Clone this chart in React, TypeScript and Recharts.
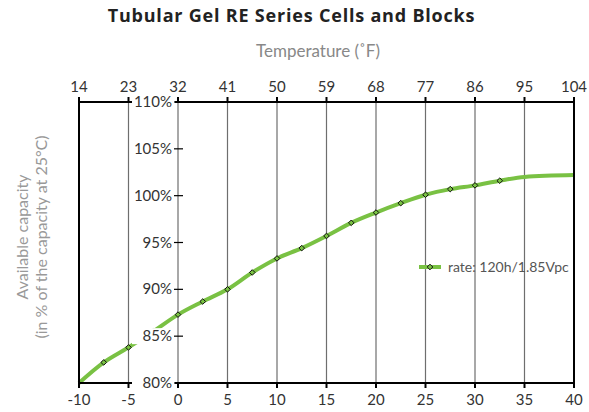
import { ComposedChart, Line, XAxis, YAxis, CartesianGrid, Legend, Label } from 'recharts';

const temps = [-10, -7.5, -5, -2.5, 0, 2.5, 5, 7.5, 10, 12.5, 15, 17.5, 20, 22.5, 25, 27.5, 30, 32.5, 35, 40];
const capacity = [80, 82.2, 83.8, 85.5, 87.3, 88.7, 90.0, 91.8, 93.3, 94.4, 95.7, 97.1, 98.2, 99.2, 100.1, 100.7, 101.1, 101.6, 102.0, 102.2];
const celsiusTicks = [-10, -5, 0, 5, 10, 15, 20, 25, 30, 35, 40];
const percentTicks = [80, 85, 90, 95, 100, 105, 110];
const seriesName = 'rate: 120h/1.85Vpc';

const data = temps.map((t, i) => ({ temp: t, value: capacity[i] }));

const W = 589;
const H = 412;
const LEFT_W = 79;
const RIGHT_W = 15;
const TOP_H = 102;
const BOTTOM_H = 29;
const GREEN = '#79c143';
const FONT = 'Lato, "DejaVu Sans", sans-serif';

const plotW = W - LEFT_W - RIGHT_W;
// y axis (with % labels) sits at 0 °C, inside the plot
const ZERO_X = LEFT_W + ((0 - celsiusTicks[0]) / (celsiusTicks[celsiusTicks.length - 1] - celsiusTicks[0])) * plotW;

const toF = (c: number) => String(Math.round(c * 1.8 + 32));

function PercentTick({ y, payload }: any) {
  return (
    <g>
      <rect x={ZERO_X - 46} y={y - 8} width={43} height={16} fill="#fff" />
      <text x={ZERO_X - 6} y={y} dy={5} textAnchor="end" fontSize={15} fill="#333" fontFamily={FONT}>
        {`${payload.value}%`}
      </text>
      <line x1={ZERO_X - 4} x2={ZERO_X + 5} y1={y} y2={y} stroke="#000" strokeWidth={1.2} />
    </g>
  );
}

function Diamond(props: any) {
  const { cx, cy, index } = props;
  if (index === 0 || index >= temps.length - 2) return <g key={index} />;
  const r = 2.8;
  return (
    <path
      key={index}
      d={`M${cx},${cy - r}L${cx + r},${cy}L${cx},${cy + r}L${cx - r},${cy}Z`}
      fill={GREEN}
      stroke="#111"
      strokeWidth={1}
    />
  );
}

function LegendBox() {
  return (
    <div style={{ display: 'flex', alignItems: 'center', fontFamily: FONT, fontSize: 14, color: '#555' }}>
      <svg width={24} height={10} style={{ marginRight: 6 }}>
        <line x1={1} x2={23} y1={5} y2={5} stroke={GREEN} strokeWidth={4} />
        <path d="M12,2.2L14.8,5L12,7.8L9.2,5Z" fill={GREEN} stroke="#111" strokeWidth={1} />
      </svg>
      <span>{seriesName}</span>
    </div>
  );
}

function YTitle() {
  const cx = 32;
  const cy = 237;
  return (
    <text transform={`rotate(-90, ${cx}, ${cy})`} x={cx} y={cy} textAnchor="middle" fontSize={16} fill="#999" fontFamily={FONT}>
      <tspan x={cx} dy={-4}>Available capacity</tspan>
      <tspan x={cx} dy={19}>(in % of the capacity at 25°C)</tspan>
    </text>
  );
}

export default function App() {
  return (
    <div style={{ position: 'absolute', left: 0, top: 0, width: W, height: H, background: '#fff' }}>
      <div
        style={{
          position: 'absolute',
          left: 0,
          top: 3,
          width: 583,
          textAlign: 'center',
          fontFamily: '"Open Sans", sans-serif',
          fontWeight: 700,
          fontSize: 18,
          letterSpacing: 0.8,
          color: '#222',
        }}
      >
        Tubular Gel RE Series Cells and Blocks
      </div>
      <div
        style={{
          position: 'absolute',
          left: 0,
          top: 40,
          width: 636,
          textAlign: 'center',
          fontFamily: FONT,
          fontSize: 17,
          color: '#888',
        }}
      >
        Temperature (˚F)
      </div>
      <ComposedChart width={W} height={H} data={data} margin={{ top: 0, right: 0, bottom: 0, left: 0 }}>
        <CartesianGrid xAxisId="bottom" yAxisId="y" horizontal={false} stroke="#6e6e6e" strokeWidth={1.2} />
        <Line
          xAxisId="bottom"
          yAxisId="y"
          type="monotone"
          dataKey="value"
          name={seriesName}
          stroke={GREEN}
          strokeWidth={4}
          dot={Diamond}
          isAnimationActive={false}
        />
        <XAxis
          xAxisId="bottom"
          dataKey="temp"
          type="number"
          domain={[-10, 40]}
          ticks={celsiusTicks}
          height={BOTTOM_H}
          stroke="#000"
          strokeWidth={2}
          tickSize={5}
          tickMargin={6}
          tick={{ fill: '#333', fontSize: 15, fontFamily: FONT }}
          interval={0}
        />
        <XAxis
          xAxisId="top"
          orientation="top"
          dataKey="temp"
          type="number"
          domain={[-10, 40]}
          ticks={celsiusTicks}
          tickFormatter={toF}
          height={TOP_H}
          stroke="#000"
          strokeWidth={2}
          tickSize={5}
          tickMargin={5}
          tick={{ fill: '#333', fontSize: 15, fontFamily: FONT }}
          interval={0}
        />
        <YAxis yAxisId="r" orientation="right" width={RIGHT_W} domain={[80, 110]} tick={false} stroke="#000" strokeWidth={2} />
        <YAxis
          yAxisId="y"
          domain={[80, 110]}
          ticks={percentTicks}
          width={LEFT_W}
          stroke="#000"
          strokeWidth={2}
          tickLine={false}
          tick={<PercentTick />}
          interval={0}
        >
          <Label content={<YTitle />} />
        </YAxis>
        <Legend
          layout="horizontal"
          verticalAlign="middle"
          align="center"
          content={<LegendBox />}
          wrapperStyle={{ left: 418, top: 258, width: 160 }}
        />
      </ComposedChart>
    </div>
  );
}
